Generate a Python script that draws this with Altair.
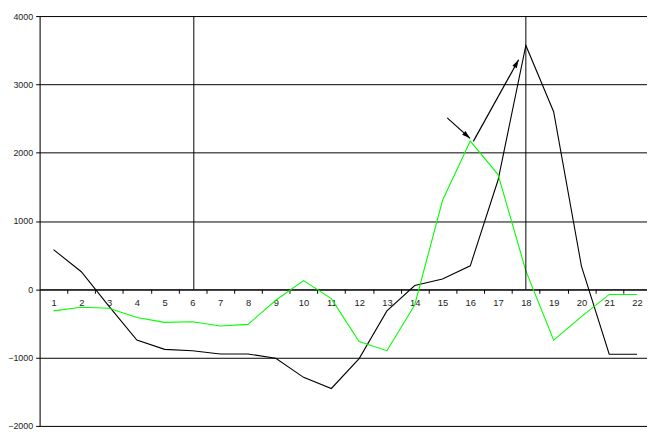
import math
import altair as alt
import pandas as pd

# ---- data ----
cats = list(range(1, 23))
black_vals = [581, 257, -250, -744, -879, -899, -947, -947, -1009, -1289, -1452,
              -1014, -316, 55, 152, 344, 1600, 3570, 2600, 340, -951, -951]
green_vals = [-316, -263, -277, -412, -484, -475, -537, -513, -160, 128, -137,
              -763, -899, -230, 1300, 2170, 1680, 270, -744, -400, -75, -75]
y_ticks = [-2000, -1000, 0, 1000, 2000, 3000, 4000]
vline_x = [6.05, 18]
arrow_x1 = [15.17, 16.11]
arrow_y1 = [2510, 2165]
arrow_x2 = [15.99, 17.74]
arrow_y2 = [2210, 3360]

# ---- layout ----
W, H = 615, 415
XMIN, XMAX = 0.5, 22.36
YMIN, YMAX = -2000, 4000
sx = W / (XMAX - XMIN)
sy = H / (YMAX - YMIN)
band = sx

df = pd.DataFrame({
    "cat": cats * 2,
    "value": black_vals + green_vals,
    "series": ["black"] * len(cats) + ["green"] * len(cats),
})

angles = []
for x1, y1, x2, y2 in zip(arrow_x1, arrow_y1, arrow_x2, arrow_y2):
    dx = (x2 - x1) * sx
    dy = -(y2 - y1) * sy
    angles.append(math.degrees(math.atan2(dx, -dy)))
arrows = pd.DataFrame({"x1": arrow_x1, "y1": arrow_y1, "x2": arrow_x2,
                       "y2": arrow_y2, "angle": angles})
vlines = pd.DataFrame({"x": vline_x, "top": [YMAX] * 2, "bottom": [0] * 2})

FONT = "Liberation Sans"
xscale = alt.Scale(domain=[XMIN, XMAX], nice=False, zero=False)
yscale = alt.Scale(domain=[YMIN, YMAX], nice=False, zero=False)

xaxis = alt.Axis(values=cats, tickOffset=band / 2, labelOffset=-band / 2,
                 offset=-(0 - YMIN) * sy, grid=False, title=None, tickSize=4,
                 tickColor="black", domainColor="black", labelPadding=4,
                 labelFont=FONT, labelFontSize=9.5, labelColor="#222",
                 labelFlush=False, labelOverlap=False, labelBound=False,
                 labelSeparation=0)
yaxis = alt.Axis(values=y_ticks, format="d", grid=True, gridColor="black",
                 gridWidth=1, gridOpacity=1, title=None, tickSize=4,
                 tickColor="black", domainColor="black", labelPadding=3,
                 labelFont=FONT, labelFontSize=9, labelColor="#222",
                 labelOverlap=False)

lines = alt.Chart(df).mark_line(strokeWidth=1.1).encode(
    x=alt.X("cat:Q", scale=xscale, axis=xaxis),
    y=alt.Y("value:Q", scale=yscale, axis=yaxis),
    color=alt.Color("series:N", scale=alt.Scale(domain=["green", "black"],
                                                range=["#00ff00", "#000000"]),
                    legend=None),
    order=alt.Order("cat:Q"),
)

vrules = alt.Chart(vlines).mark_rule(color="black", strokeWidth=1).encode(
    x=alt.X("x:Q", scale=xscale, axis=xaxis),
    y=alt.Y("top:Q", scale=yscale, axis=yaxis), y2="bottom:Q")

arrow_lines = alt.Chart(arrows).mark_rule(color="black", strokeWidth=1.2).encode(
    x=alt.X("x1:Q", scale=xscale, axis=xaxis),
    y=alt.Y("y1:Q", scale=yscale, axis=yaxis), x2="x2:Q", y2="y2:Q")

arrow_heads = alt.Chart(arrows).mark_point(
    shape="M0,0 L0.6,2 L-0.6,2 Z", filled=True, color="black", opacity=1,
    size=70, strokeWidth=0).encode(
    x=alt.X("x2:Q", scale=xscale, axis=xaxis),
    y=alt.Y("y2:Q", scale=yscale, axis=yaxis),
    angle=alt.Angle("angle:Q", scale=None))

chart = alt.layer(lines, vrules, arrow_lines, arrow_heads).properties(
    width=W, height=H,
    autosize=alt.AutoSizeParams(type="none"),
    padding={"left": 32, "top": 5.5, "right": 0, "bottom": 4},
).configure_view(stroke=None).configure_axisX(
    labelOverlap=False, labelSeparation=0
).configure(background="white")

chart.save("out.html", embed_options={"renderer": "svg", "actions": False})
